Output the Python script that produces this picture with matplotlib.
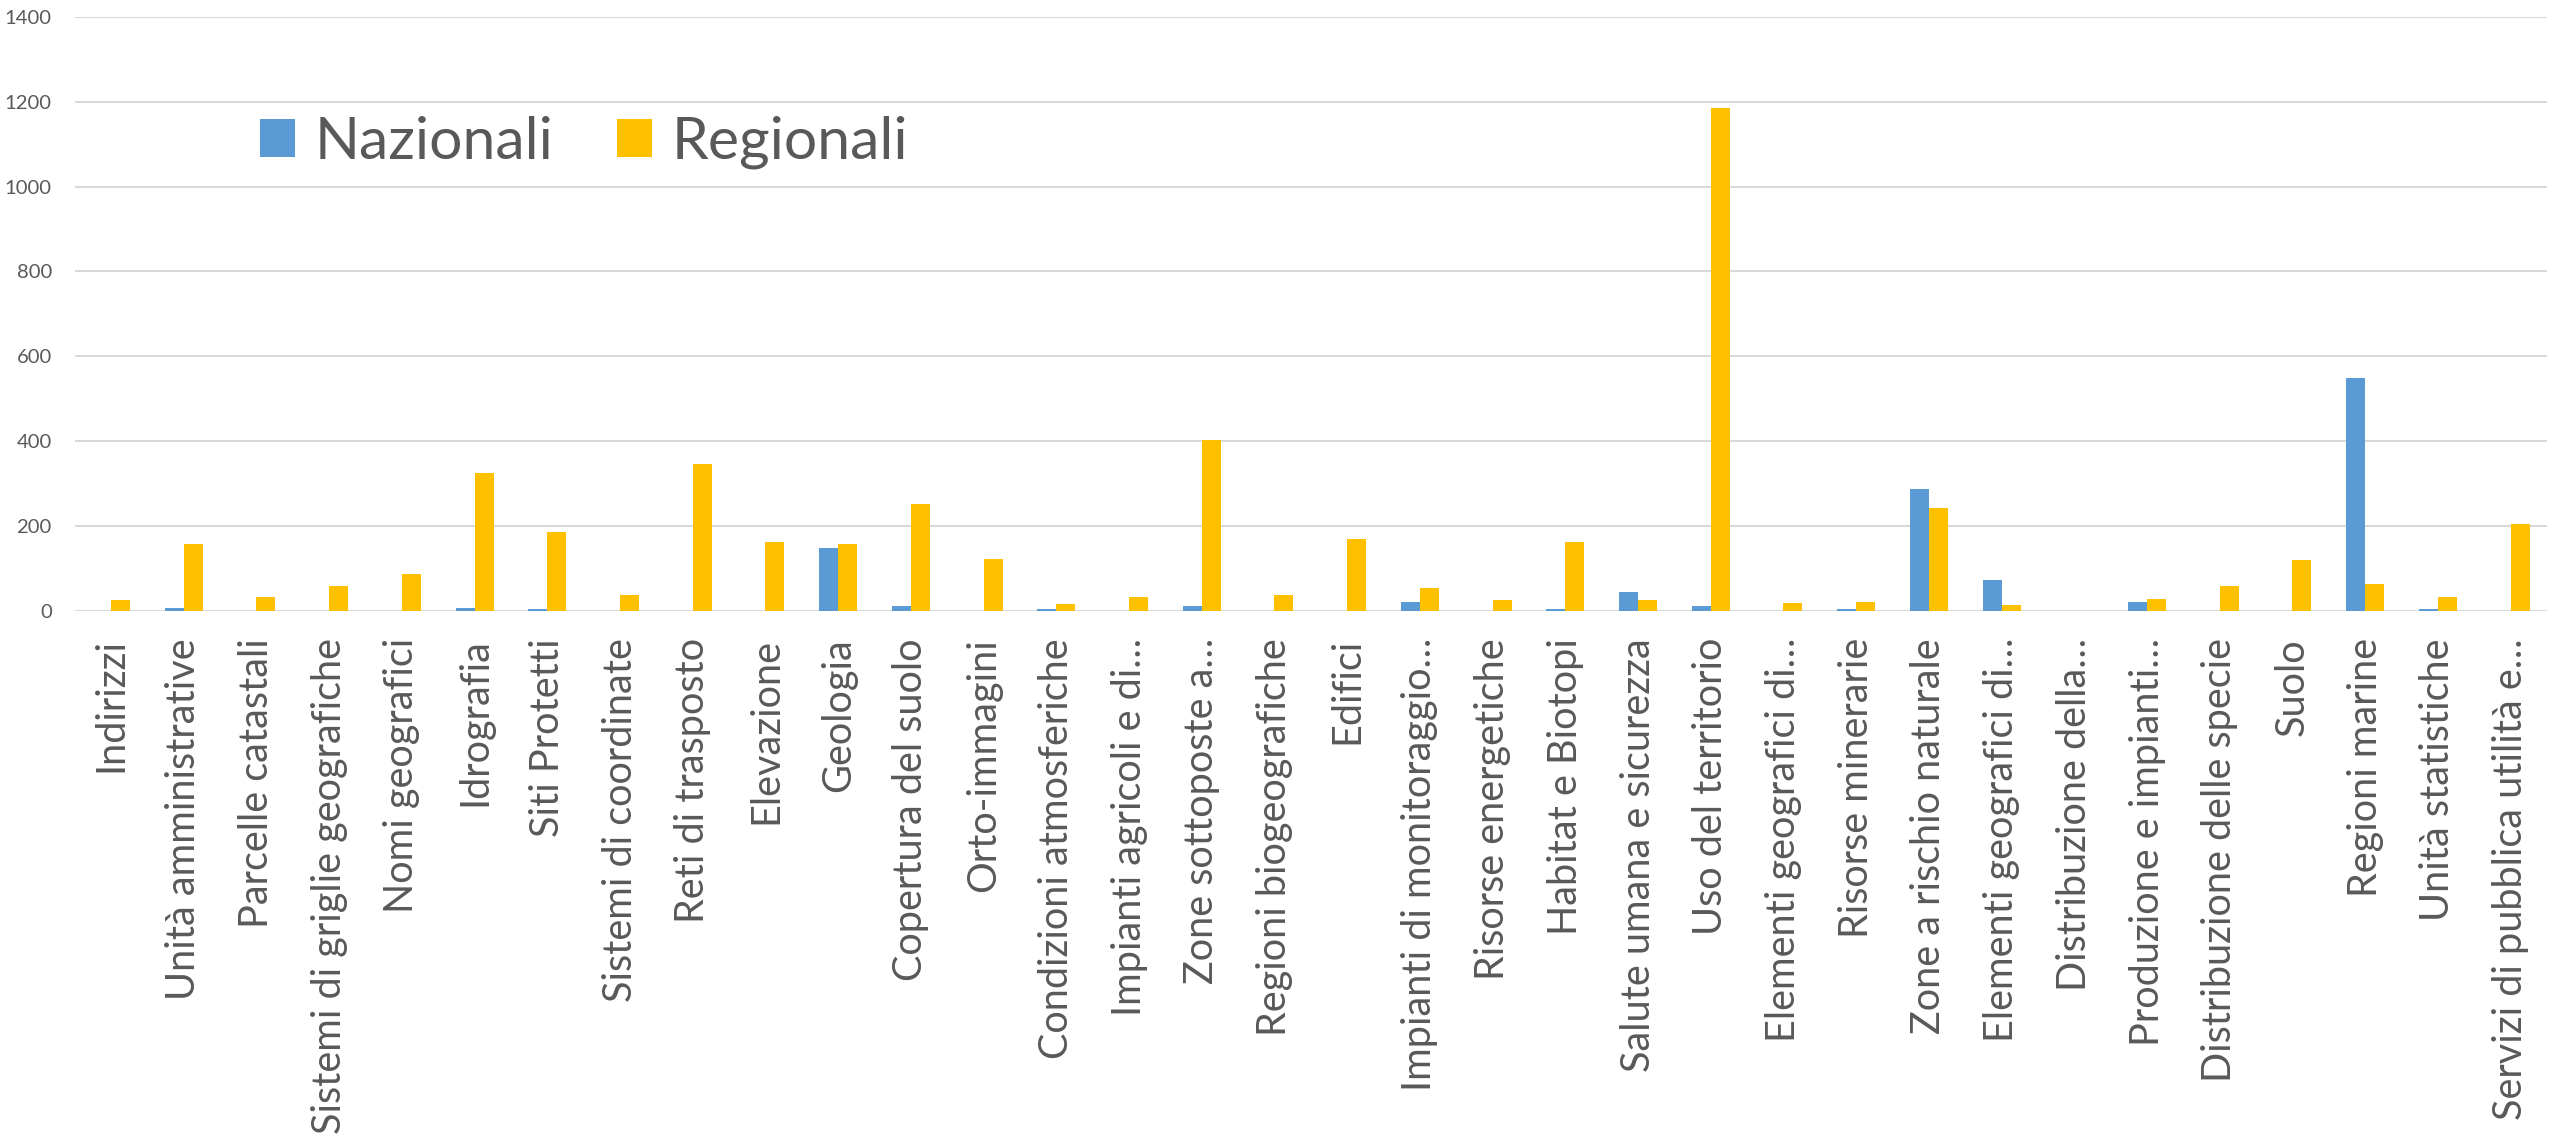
import matplotlib
matplotlib.use("Agg")
import matplotlib.pyplot as plt
import numpy as np
from matplotlib.patches import Patch

categories = [
    "Indirizzi", "Unità amministrative", "Parcelle catastali",
    "Sistemi di griglie geografiche", "Nomi geografici", "Idrografia",
    "Siti Protetti", "Sistemi di coordinate", "Reti di trasposto",
    "Elevazione", "Geologia", "Copertura del suolo", "Orto-immagini",
    "Condizioni atmosferiche", "Impianti agricoli e di…", "Zone sottoposte a…",
    "Regioni biogeografiche", "Edifici", "Impianti di monitoraggio…",
    "Risorse energetiche", "Habitat e Biotopi", "Salute umana e sicurezza",
    "Uso del territorio", "Elementi geografici di…", "Risorse minerarie",
    "Zone a rischio naturale", "Elementi geografici di…", "Distribuzione della…",
    "Produzione e impianti…", "Distribuzione delle specie", "Suolo",
    "Regioni marine", "Unità statistiche", "Servizi di pubblica utilità e…",
]
nazionali = [0, 8, 0, 0, 0, 8, 5, 0, 0, 0, 148, 12, 0, 4, 0, 11, 0, 0, 22, 0,
             5, 44, 12, 0, 4, 287, 73, 0, 22, 0, 0, 550, 4, 0]
regionali = [25, 159, 34, 58, 86, 326, 187, 37, 346, 162, 159, 253, 122, 16, 33,
             402, 37, 170, 55, 27, 163, 27, 1184, 18, 22, 243, 15, 0, 29, 60,
             119, 63, 32, 206]
series_names = ["Nazionali", "Regionali"]
yticks = [0, 200, 400, 600, 800, 1000, 1200, 1400]

BLUE = "#5B9BD5"
GOLD = "#FFC000"
TXT = "#595959"
GRID = "#D9D9D9"

plt.rcParams['font.family'] = ['Lato', 'DejaVu Sans']

W, H = 2552, 1138
fig = plt.figure(figsize=(W / 100, H / 100), dpi=100)
left, right = 74.7 / W, 2547 / W
bottom, top = (H - 611) / H, (H - 16.7) / H
ax = fig.add_axes([left, bottom, right - left, top - bottom])

x = np.arange(len(categories))
bw = 0.26
ax.bar(x - bw / 2, nazionali, width=bw, color=BLUE, zorder=3, linewidth=0)
ax.bar(x + bw / 2, regionali, width=bw, color=GOLD, zorder=3, linewidth=0)

ax.set_xlim(-0.5, len(categories) - 0.5)
ax.set_ylim(0, 1400)
ax.set_yticks(yticks)
ax.set_yticklabels([str(v) for v in yticks])
ax.set_xticks(x)
ax.set_xticklabels(categories, rotation=90, ha='center', va='top')

for s in ax.spines.values():
    s.set_visible(False)
ax.yaxis.grid(True, color=GRID, linewidth=1.5, zorder=0)
ax.set_axisbelow(True)
ax.tick_params(axis='y', length=0, pad=16.5, labelsize=14.6, labelcolor=TXT)
ax.tick_params(axis='x', length=0, pad=19.5, labelsize=28.5, labelcolor=TXT)

handles = [Patch(facecolor=BLUE, edgecolor='none', label=series_names[0]),
           Patch(facecolor=GOLD, edgecolor='none', label=series_names[1])]
leg = fig.legend(handles=handles, loc='center left',
                 bbox_to_anchor=(260 / W, 1 - 142.5 / H),
                 bbox_transform=fig.transFigure, ncol=2, frameon=False,
                 fontsize=42.4, handlelength=0.594, handleheight=0.594,
                 handletextpad=0.34, columnspacing=1.07, borderpad=0,
                 borderaxespad=0)
for t in leg.get_texts():
    t.set_color(TXT)

fig.savefig("out.png", dpi=100)
